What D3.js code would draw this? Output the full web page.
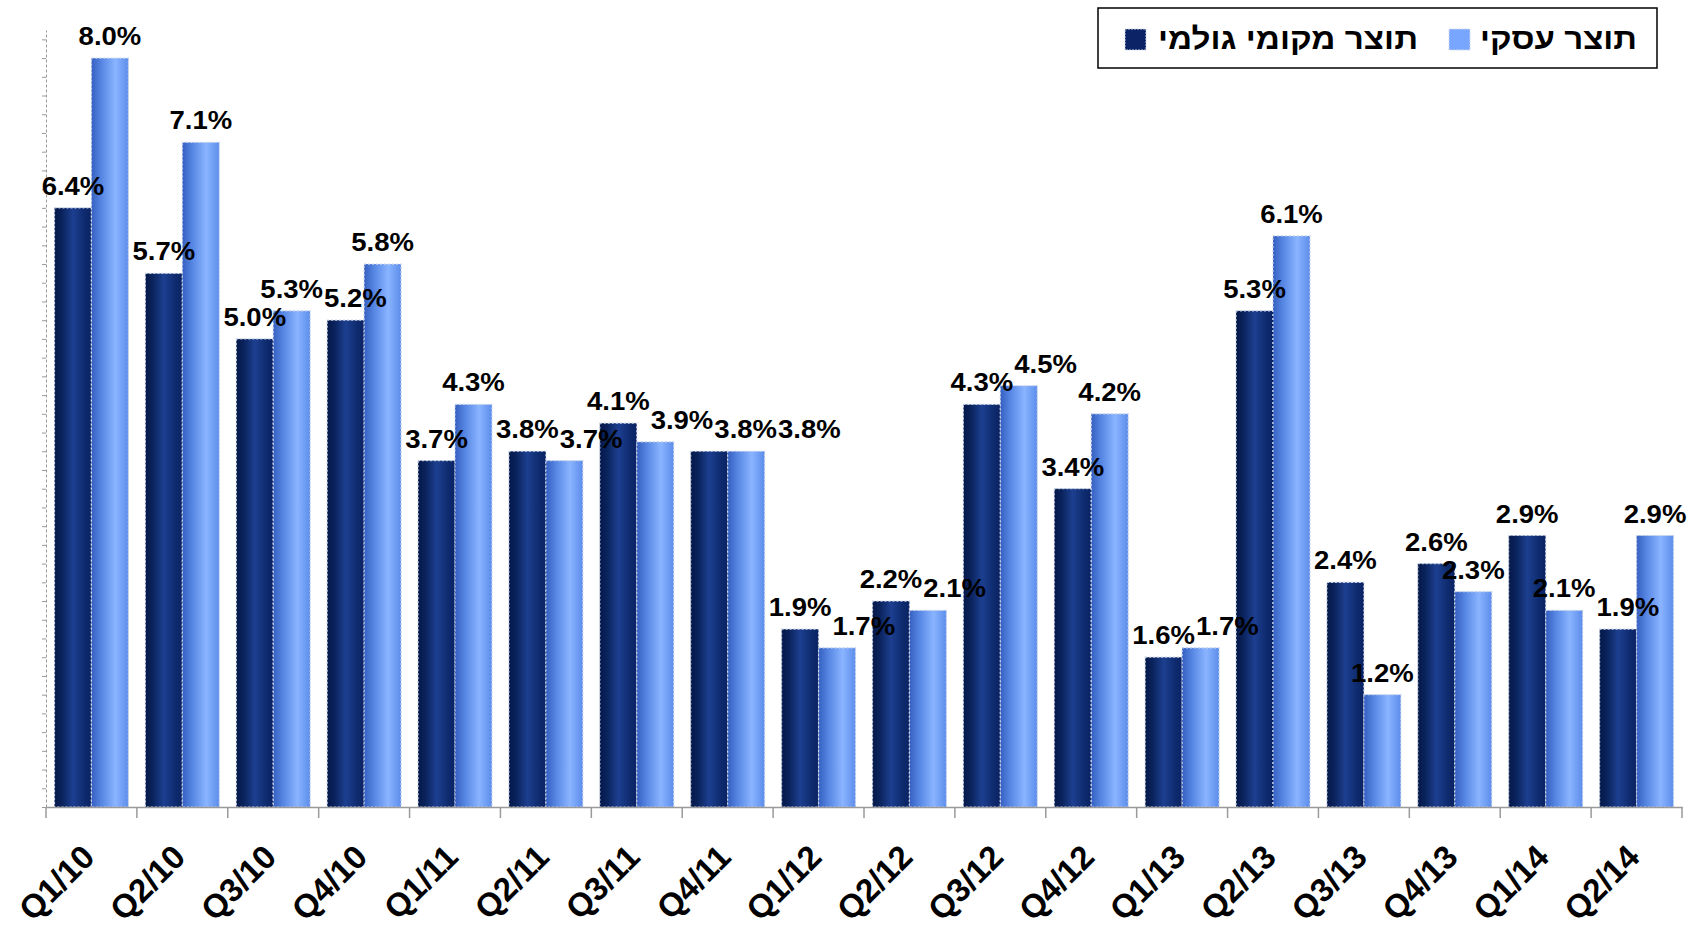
<!DOCTYPE html>
<html>
<head>
<meta charset="utf-8">
<script src="https://cdn.jsdelivr.net/npm/d3@7"></script>
<style>
  body { margin: 0; background: #fff; }
  svg { display: block; font-family: "Liberation Sans", Arial, sans-serif; }
</style>
</head>
<body>
<div id="chart"></div>
<script>
// data
const quarters = ["Q1/10","Q2/10","Q3/10","Q4/10","Q1/11","Q2/11","Q3/11","Q4/11",
                  "Q1/12","Q2/12","Q3/12","Q4/12","Q1/13","Q2/13","Q3/13","Q4/13","Q1/14","Q2/14"];
const gdp      = [6.4,5.7,5.0,5.2,3.7,3.8,4.1,3.8,1.9,2.2,4.3,3.4,1.6,5.3,2.4,2.6,2.9,1.9];
const business = [8.0,7.1,5.3,5.8,4.3,3.7,3.9,3.8,1.7,2.1,4.5,4.2,1.7,6.1,1.2,2.3,2.1,2.9];
const seriesKeys = ["gdp","business"];
const seriesNames = {gdp: "תוצר מקומי גולמי", business: "תוצר עסקי"};

const W = 1697, H = 939;
const plotLeft = 46, plotRight = 1682, plotTop = 30, base = 807;

const svg = d3.select("#chart").append("svg")
    .attr("width", W)
    .attr("height", H);

// gradients for the bars (dark navy / light blue)
const defs = svg.append("defs");
function grad(id, stops) {
    const g = defs.append("linearGradient").attr("id", id)
        .attr("x1", "0%").attr("x2", "100%").attr("y1", "0%").attr("y2", "0%");
    stops.forEach(s => g.append("stop").attr("offset", s[0]).attr("stop-color", s[1]));
}
grad("g-gdp", [[0,"#05184a"],[0.2,"#0a235c"],[0.5,"#1d3f90"],[0.8,"#0f2c70"],[1,"#0a2262"]]);
grad("g-business", [[0,"#3660c2"],[0.3,"#5a8ae6"],[0.65,"#8ab4ff"],[1,"#5c8deb"]]);

const y = d3.scaleLinear().domain([0, 8.3]).range([base, plotTop]);

const x0 = d3.scaleBand().domain(quarters).range([plotLeft, plotRight]).padding(0);
const x1 = d3.scaleBand().domain(seriesKeys).range([0, x0.bandwidth()])
    .paddingInner(0).paddingOuter(0.23);

const rows = quarters.map((q, i) => ({q: q, gdp: gdp[i], business: business[i]}));

// y axis - dotted grey line with small ticks, no labels
svg.append("g")
    .attr("transform", "translate(" + plotLeft + ",0)")
    .call(d3.axisLeft(y).tickValues(d3.range(0, 8.3, 0.2)).tickSize(4).tickSizeOuter(0).tickFormat(""))
    .call(g => g.select(".domain").attr("stroke", "#9a9a9a").attr("stroke-dasharray", "3,2"))
    .call(g => g.selectAll(".tick line").attr("stroke", "#9a9a9a"));

// bars
const groups = svg.selectAll("g.grp")
    .data(rows)
    .join("g")
    .attr("class", "grp")
    .attr("transform", d => "translate(" + x0(d.q) + ",0)");

groups.selectAll("rect")
    .data(d => seriesKeys.map(k => ({key: k, value: d[k]})))
    .join("rect")
    .attr("x", d => x1(d.key))
    .attr("y", d => y(d.value))
    .attr("width", x1.bandwidth())
    .attr("height", d => base - y(d.value))
    .attr("fill", d => "url(#g-" + d.key + ")")
    .attr("stroke", "#c9d3e6")
    .attr("stroke-width", 1.2)
    .attr("stroke-dasharray", "2,2");

// value labels: centred above each bar, then swept left to right and
// pushed right whenever they would sit on a label already placed
const labelScale = 1.1;
const labelItems = [];
rows.forEach(r => seriesKeys.forEach(k => labelItems.push({
    key: k, value: r[k],
    cx: x0(r.q) + x1(k) + x1.bandwidth() / 2,
    cy: y(r[k]) - 13
})));

const labels = svg.selectAll("text.label")
    .data(labelItems)
    .join("text")
    .attr("class", "label")
    .attr("text-anchor", "middle")
    .attr("font-size", "25px")
    .attr("font-weight", "bold")
    .attr("fill", "#000")
    .text(d => d.value.toFixed(1) + "%");

labels.each(function(d) { d.w = this.getComputedTextLength() * labelScale; });
labelItems.forEach((d, i) => {
    for (let j = 0; j < i; j++) {
        const p = labelItems[j];
        if (Math.abs(p.cy - d.cy) >= 26) continue;
        const overlap = (p.cx + p.w / 2 + 1) - (d.cx - d.w / 2);
        if (overlap > 0 && p.cx <= d.cx + d.w) d.cx += overlap;
    }
});
labels.attr("transform", d => "translate(" + d.cx + "," + d.cy + ") scale(" + labelScale + ",1)");

// x axis
const xAxis = svg.append("g")
    .attr("transform", "translate(0," + base + ")")
    .call(d3.axisBottom(x0).tickSize(0).tickSizeOuter(0).tickFormat(""));
xAxis.select(".domain").attr("stroke", "#9a9a9a").attr("stroke-width", 1.5);

// boundary ticks between categories
const bounds = quarters.map(q => x0(q)).concat([plotRight]);
svg.selectAll("line.bound")
    .data(bounds)
    .join("line")
    .attr("class", "bound")
    .attr("x1", d => d).attr("x2", d => d)
    .attr("y1", base).attr("y2", base + 11)
    .attr("stroke", "#9a9a9a")
    .attr("stroke-width", 1.5);

// rotated category labels
svg.selectAll("text.xlab")
    .data(quarters)
    .join("text")
    .attr("class", "xlab")
    .attr("transform", d => "translate(" + (x0(d) + x0.bandwidth() / 2 + 5) + "," + (base + 52) + ") rotate(-45)")
    .attr("text-anchor", "end")
    .attr("font-size", "33px")
    .attr("font-weight", "bold")
    .text(d => d);

// legend
const legend = svg.append("g");
legend.append("rect")
    .attr("x", 1098).attr("y", 8)
    .attr("width", 559).attr("height", 60)
    .attr("fill", "#fff")
    .attr("stroke", "#000")
    .attr("stroke-width", 1.5);

const legendItems = [
    {key: "business", textLeft: 1480, textWidth: 157, sw: 1449},
    {key: "gdp", textLeft: 1158, textWidth: 260, sw: 1125}
];
legend.selectAll("rect.sw")
    .data(legendItems)
    .join("rect")
    .attr("class", "sw")
    .attr("x", d => d.sw).attr("y", 29)
    .attr("width", 21).attr("height", 21)
    .attr("fill", d => d.key == "gdp" ? "#0c2466" : "#78a6ff")
    .attr("stroke", "#d0d8ea")
    .attr("stroke-dasharray", "2,1");
legend.selectAll("text.lt")
    .data(legendItems)
    .join("text")
    .attr("class", "lt")
    .attr("x", d => d.textLeft).attr("y", 49)
    .attr("text-anchor", "start")
    .attr("font-size", "30px")
    .attr("font-weight", "bold")
    .attr("textLength", d => d.textWidth)
    .attr("lengthAdjust", "spacingAndGlyphs")
    .text(d => seriesNames[d.key]);
</script>
</body>
</html>
